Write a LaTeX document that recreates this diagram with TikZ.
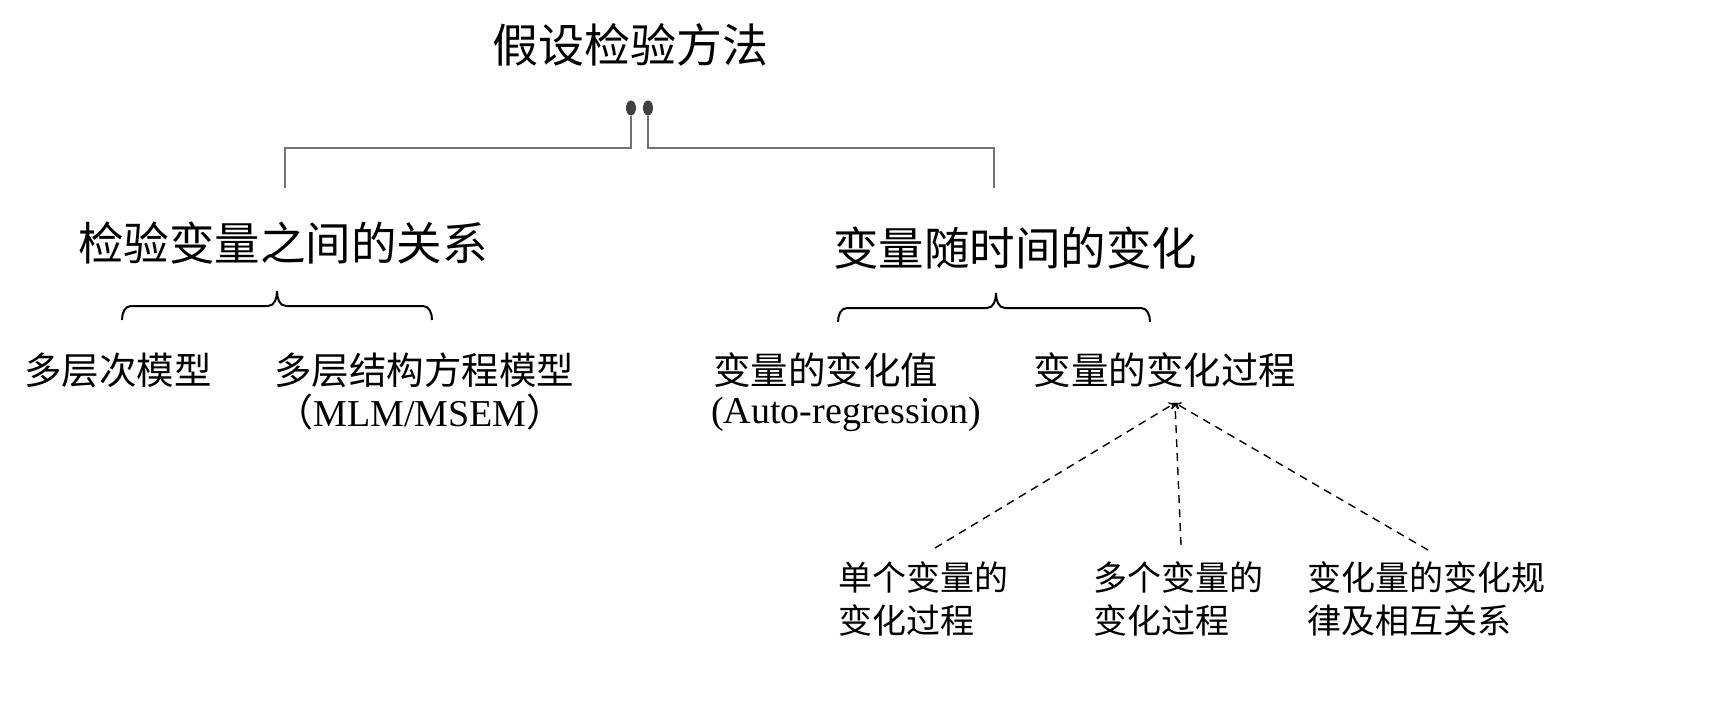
\documentclass[tikz,border=0pt]{standalone}
\usepackage{fontspec}
\setmainfont{Liberation Serif}
\newfontfamily\cjk{Noto Sans CJK SC}
\usetikzlibrary{shapes.geometric,arrows.meta}
\tikzset{
  title/.style={inner sep=0pt,font=\cjk\fontsize{46pt}{50pt}\selectfont},
  lvone/.style={inner sep=0pt,font=\cjk\fontsize{45.5pt}{50pt}\selectfont},
  lvtwo/.style={inner sep=0pt,font=\cjk\fontsize{37.5pt}{42pt}\selectfont},
  lvthree/.style={inner sep=0pt,align=left,anchor=north west,font=\cjk\fontsize{34pt}{43pt}\selectfont},
  dot/.style={ellipse,fill=black!75,draw=none,minimum width=10pt,minimum height=15pt,inner sep=0pt},
  conn/.style={draw=black!55,line width=1.5pt},
  bracestyle/.style={draw=black,line width=2pt},
  dashconn/.style={draw=black,line width=1.4pt,dash pattern=on 8pt off 6pt,-{To[length=6pt,width=8pt]}}
}
\begin{document}
\begin{tikzpicture}[x=1pt,y=-1pt]
\useasboundingbox[fill=white] (0,0) rectangle (1714,718);
% title
\node[title] (t) at (630,45) {假设检验方法};
\node[dot] (d1) at (631,108) {};
\node[dot] (d2) at (648,108) {};
% level one
\node[lvone] (l1) at (283,243) {检验变量之间的关系};
\node[lvone] (r1) at (1015,248) {变量随时间的变化};
\coordinate (l1top) at (285,188);
\coordinate (r1top) at (994,188);
\draw[conn] (d1.south) -- (631,148) -- (285,148) -- (l1top);
\draw[conn] (d2.south) -- (648,148) -- (994,148) -- (r1top);
% braces
\draw[bracestyle] (122,320) to[out=90,in=180] (131,306) -- (268,306) to[out=0,in=-90] (277,291) to[out=-90,in=180] (286,306) -- (423,306) to[out=0,in=90] (432,320);
\draw[bracestyle] (838,322) to[out=90,in=180] (847,308) -- (987,308) to[out=0,in=-90] (996,293) to[out=-90,in=180] (1005,308) -- (1141,308) to[out=0,in=90] (1150,322);
% level two
\node[lvtwo] (a) at (118,370) {多层次模型};
\node[lvtwo] (b) at (424,370) {多层结构方程模型};
\node[inner sep=0pt,font=\fontsize{38pt}{42pt}\selectfont] (b2) at (420,412) {{\cjk （}MLM/MSEM{\cjk ）}};
\node[lvtwo,anchor=west] (c) at (713,370) {变量的变化值};
\node[inner sep=0pt,anchor=west,font=\fontsize{38pt}{42pt}\selectfont] (c2) at (711,414) {(Auto-regression)};
\node[lvtwo] (d) at (1165,370) {变量的变化过程};
% level three
\node[lvthree] (e) at (838,561) {单个变量的\\变化过程};
\node[lvthree] (f) at (1093,561) {多个变量的\\变化过程};
\node[lvthree] (g) at (1307,561) {变化量的变化规\\律及相互关系};
\coordinate (dtop) at (1175,403);
\coordinate (e1) at (935,548);
\coordinate (f1) at (1181,545);
\coordinate (g1) at (1428,550);
\draw[dashconn] (e1) -- (dtop);
\draw[dashconn] (f1) -- (dtop);
\draw[dashconn] (g1) -- (dtop);
\end{tikzpicture}
\end{document}
